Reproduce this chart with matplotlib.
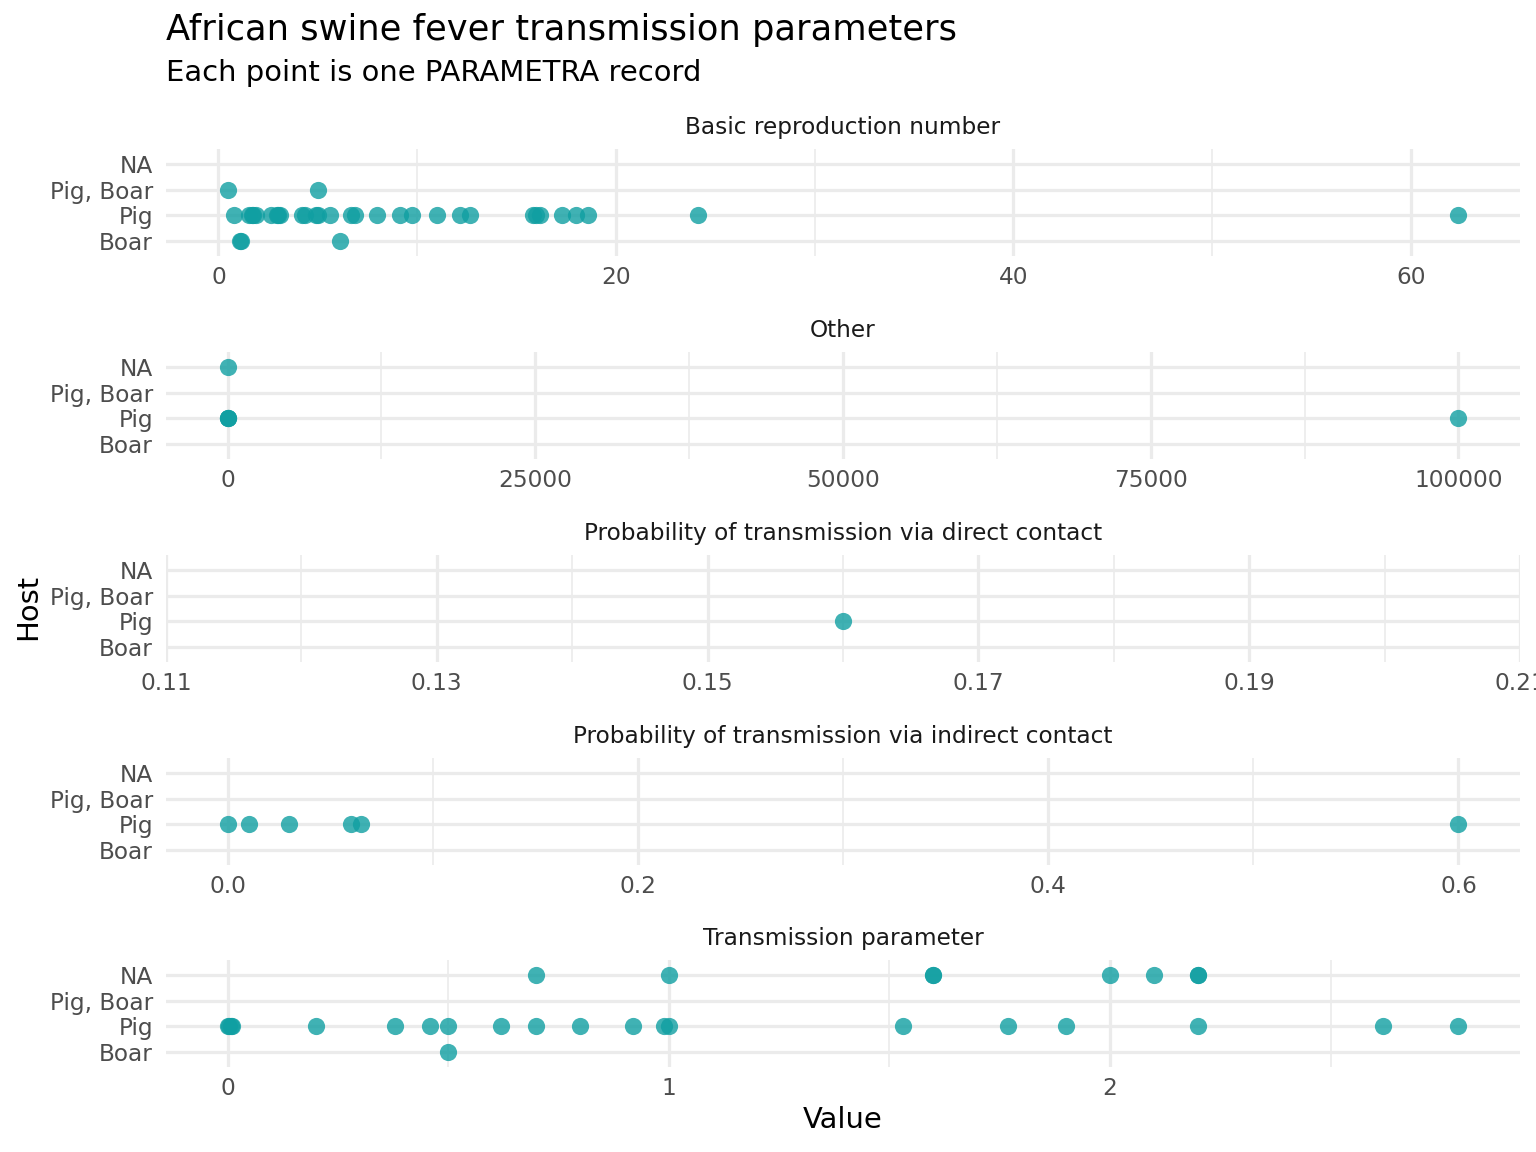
import matplotlib
matplotlib.use('Agg')
import matplotlib.pyplot as plt
from matplotlib.ticker import FixedLocator

# host rows, bottom to top
hosts = ['Boar', 'Pig', 'Pig, Boar', 'NA']

# Basic reproduction number
r0_boar = [1.1, 1.15, 6.1]
r0_pig = [0.79, 1.54, 1.69, 1.75, 1.88, 2.65, 2.94, 3.0, 3.10, 4.19, 4.38, 4.92, 5.0,
          5.63, 6.69, 6.88, 8.0, 9.15, 9.73, 11.0, 12.17, 12.65, 15.83, 16.0, 16.17,
          17.31, 18.0, 18.6, 24.13, 62.4]
r0_pig_boar = [0.46, 5.0]

# Other
other_pig = [0.05, 1, 20, 100000]
other_na = [0.5]

# Probability of transmission via direct contact
direct_pig = [0.16]

# Probability of transmission via indirect contact
indirect_pig = [0.0, 0.0105, 0.03, 0.06, 0.065, 0.6]

# Transmission parameter
trans_boar = [0.5]
trans_pig = [0.0, 0.003, 0.007, 0.01, 0.2, 0.38, 0.46, 0.5, 0.62, 0.70, 0.80, 0.92,
             0.99, 1.0, 1.53, 1.77, 1.90, 2.2, 2.62, 2.79]
trans_na = [0.70, 1.0, 1.6, 1.6, 2.0, 2.1, 2.2, 2.2]

panels = [
    ('Basic reproduction number', {'Boar': r0_boar, 'Pig': r0_pig, 'Pig, Boar': r0_pig_boar},
     [0, 20, 40, 60], ['0', '20', '40', '60'], [10, 30, 50], None),
    ('Other', {'Pig': other_pig, 'NA': other_na},
     [0, 25000, 50000, 75000, 100000], ['0', '25000', '50000', '75000', '100000'],
     [12500, 37500, 62500, 87500], None),
    ('Probability of transmission via direct contact', {'Pig': direct_pig},
     [0.11, 0.13, 0.15, 0.17, 0.19, 0.21], ['0.11', '0.13', '0.15', '0.17', '0.19', '0.21'],
     [0.12, 0.14, 0.16, 0.18, 0.20], (0.11, 0.21)),
    ('Probability of transmission via indirect contact', {'Pig': indirect_pig},
     [0.0, 0.2, 0.4, 0.6], ['0.0', '0.2', '0.4', '0.6'], [0.1, 0.3, 0.5], None),
    ('Transmission parameter', {'Boar': trans_boar, 'Pig': trans_pig, 'NA': trans_na},
     [0, 1, 2], ['0', '1', '2'], [0.5, 1.5, 2.5], None),
]

W, H = 1536, 1152
fig = plt.figure(figsize=(W / 144, H / 144), dpi=144)
plt.rcParams['font.family'] = 'DejaVu Sans'

point_color = '#109FA2'
left, right = 166, 1520
panel_h = 107.8
bottoms = [256.4, 459.4, 662.4, 865.4, 1067.4]

for (name, data, ticks, labels, minor, lims), bot in zip(panels, bottoms):
    ax = fig.add_axes([left / W, 1 - bot / H, (right - left) / W, panel_h / H])
    for i, h in enumerate(hosts):
        vals = data.get(h, [])
        ax.scatter(vals, [i + 1] * len(vals), s=74, color=point_color, alpha=0.8,
                   linewidths=0, zorder=3)
    ax.set_ylim(0.4, 4.6)
    ax.set_yticks([1, 2, 3, 4])
    ax.set_yticklabels(hosts)
    if lims is None:
        allv = [v for vs in data.values() for v in vs]
        lo, hi = min(allv), max(allv)
        pad = (hi - lo) * 0.05
        ax.set_xlim(lo - pad, hi + pad)
    else:
        ax.set_xlim(*lims)
    ax.set_xticks(ticks)
    ax.set_xticklabels(labels)
    ax.xaxis.set_minor_locator(FixedLocator(minor))
    ax.grid(True, which='major', color='#EBEBEB', linewidth=1.6, zorder=0)
    ax.grid(True, which='minor', axis='x', color='#EBEBEB', linewidth=0.8, zorder=0)
    ax.set_axisbelow(True)
    for s in ax.spines.values():
        s.set_visible(False)
    ax.tick_params(which='both', length=0)
    ax.tick_params(axis='y', pad=6.5, labelsize=11.6, labelcolor='#4D4D4D')
    ax.tick_params(axis='x', pad=5, labelsize=11.6, labelcolor='#4D4D4D')
    top = bot - panel_h
    fig.text((left + right) / 2 / W, 1 - (top - 21.5) / H, name, ha='center', va='center',
             fontsize=11.6, color='#1A1A1A')

fig.text(left / W, 1 - 30 / H, 'African swine fever transmission parameters',
         fontsize=17.6, ha='left', va='center', color='black')
fig.text(left / W, 1 - 73 / H, 'Each point is one PARAMETRA record',
         fontsize=14.5, ha='left', va='center', color='black')
fig.text(28 / W, 1 - 607 / H, 'Host', rotation=90, fontsize=14.5, ha='center', va='center')
fig.text((left + right) / 2 / W, 1 - 1120 / H, 'Value', fontsize=14.5, ha='center', va='center')

fig.savefig('out.png', dpi=144)
